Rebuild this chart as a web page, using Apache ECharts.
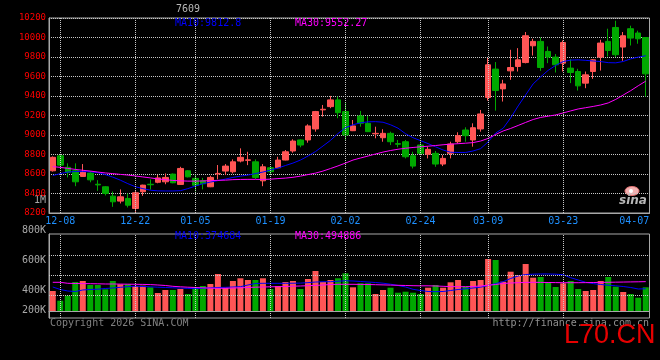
<!DOCTYPE html>
<html><head><meta charset="utf-8">
<script src="https://cdn.jsdelivr.net/npm/echarts@6/dist/echarts.min.js"></script>
<style>html,body{margin:0;padding:0;background:#000;}#c{width:660px;height:360px;}</style>
</head><body><div id="c"></div>
<script>
const dates = ['12-05','12-08','12-09','12-10','12-11','12-12','12-15','12-16','12-17','12-18','12-19',
'12-22','12-23','12-24','12-25','12-26','12-29','12-30','12-31',
'01-05','01-06','01-07','01-08','01-09','01-12','01-13','01-14','01-15','01-16',
'01-19','01-20','01-21','01-22','01-23','01-26','01-27','01-28','01-29','01-30',
'02-02','02-03','02-04','02-05','02-06','02-09','02-10','02-11','02-12','02-13',
'02-24','02-25','02-26','02-27','03-02','03-03','03-04','03-05','03-06',
'03-09','03-10','03-11','03-12','03-13','03-16','03-17','03-18','03-19','03-20',
'03-23','03-24','03-25','03-26','03-27','03-30','03-31','04-01','04-02','04-03','04-06','04-07'];
const tickDates = ['12-08','12-22','01-05','01-19','02-02','02-24','03-09','03-23','04-07'];

const opens = [8633,8787,8668,8633,8575,8610,8495,8469,8373,8322,
8349,8246,8418,8495,8515,8520,8599,8493,8633,8555,
8530,8469,8600,8630,8623,8733,8740,8725,8530,8664,
8664,8743,8836,8949,8949,9062,9258,9291,9360,9240,
9044,9195,9120,9012,8972,9017,8912,8931,8787,8897,
8802,8812,8702,8812,8931,9051,8949,9062,9384,9676,
9473,9658,9703,9743,9915,9960,9857,9799,9737,9686,
9651,9532,9651,9799,9960,10103,9902,10090,10046,10000];
const closes = [8771,8691,8617,8520,8620,8540,8488,8400,8315,8366,
8280,8408,8486,8490,8560,8565,8510,8657,8571,8485,
8500,8565,8606,8681,8725,8771,8745,8565,8674,8623,
8743,8828,8938,8897,9093,9240,9264,9360,9229,9000,
9093,9120,9034,9017,9017,8931,8905,8777,8681,8812,
8853,8702,8760,8908,8993,8993,9075,9216,9720,9456,
9524,9692,9771,10018,9960,9692,9799,9720,9949,9641,
9504,9617,9771,9943,9867,9823,10018,9994,9987,9627];
const highs = [8780,8795,8709,8709,8702,8630,8537,8475,8420,8442,
8400,8425,8490,8545,8590,8606,8605,8674,8640,8600,
8560,8582,8692,8702,8750,8863,8828,8750,8702,8681,
8777,8846,8956,8955,9110,9247,9308,9401,9394,9326,
9154,9247,9195,9085,9059,9034,8949,8949,8828,8931,
8880,8836,8794,8931,9028,9079,9120,9257,9789,9748,
9566,9874,9891,10056,9987,10000,9908,9830,9970,9778,
9679,9651,9778,9977,10090,10172,10056,10121,10070,10005];
const lows = [8625,8675,8565,8475,8570,8515,8428,8380,8263,8298,
8257,8211,8376,8440,8505,8495,8505,8490,8565,8420,
8442,8465,8545,8589,8606,8719,8691,8548,8475,8599,
8660,8740,8818,8874,8921,9034,9188,9275,9172,8949,
9040,9085,9030,8966,8931,8897,8874,8760,8657,8794,
8760,8674,8681,8760,8915,8931,8880,9034,9353,9250,
9343,9566,9651,9735,9815,9658,9737,9641,9651,9532,
9456,9480,9576,9661,9805,9799,9761,9918,9936,9394];
const ma10 = [8584,8604,8620,8625,8625,8623,8614,8594,8568,8537,
8501,8470,8450,8434,8427,8426,8426,8429,8450,8476,
8500,8517,8532,8548,8565,8578,8589,8604,8620,8640,
8661,8687,8712,8743,8784,8830,8887,8945,9015,9075,
9105,9125,9135,9137,9131,9105,9070,9013,8972,8942,
8912,8879,8846,8823,8821,8821,8836,8860,8930,9020,
9069,9175,9298,9411,9524,9596,9663,9714,9754,9768,
9771,9766,9759,9753,9742,9740,9754,9781,9799,9812.8];
const ma30 = [8676,8668,8658,8647,8638,8630,8620,8611,8604,8596,
8589,8580,8570,8560,8550,8542,8534,8530,8527,8527,
8529,8532,8535,8537,8542,8544,8545,8545,8544,8547,
8553,8558,8566,8578,8594,8609,8630,8656,8683,8712,
8743,8764,8784,8805,8825,8841,8854,8864,8872,8879,
8885,8892,8900,8906,8911,8916,8922,8938,8965,9005,
9041,9067,9098,9129,9159,9180,9193,9206,9226,9247,
9267,9280,9293,9308,9329,9365,9410,9455,9505,9552.27];
const volumes = [337000,173600,257800,488700,505500,438100,438100,365600,505500,449900,
449900,421300,426300,399300,303300,353900,353900,370700,286500,399300,
421300,455000,623500,392600,505500,551000,522400,522400,551000,370700,
421300,488700,505500,370700,539200,674000,488700,522400,551000,635200,
399300,466700,466700,286500,353900,392600,308400,325200,308400,286500,
392600,438100,392600,483600,522400,409500,505500,522400,876200,859400,
493700,662200,606600,792000,561100,572900,488700,404400,466700,505500,
370700,337000,353900,505500,572900,409500,320200,286500,224100,399300];
const volMa10 = [404400,362300,337000,328600,353900,362300,367300,379100,387600,399300,
409500,417900,412800,407800,401000,396000,390900,385900,380800,377400,
382500,390900,396000,399300,404400,409500,438100,463400,466700,466700,
466700,466700,468000,470000,478000,488000,493000,493700,502100,508900,
505500,497100,488700,480200,468400,451600,429700,404400,365600,345400,
328600,325200,328600,345400,362300,374100,387600,401000,429700,461700,
493700,547600,589800,615000,620100,623500,623500,620100,611700,561100,
522400,483600,461700,446500,434700,424600,412800,396000,370700,374684];
const volMa30 = [483600,483600,466700,463400,461700,460000,458300,455000,455000,453300,
451600,449900,448200,444800,438100,429700,416200,407800,401000,396000,
390900,384200,382500,382500,387600,390900,396000,401000,404400,407800,
409500,412800,417900,421300,426300,431400,438100,446500,449900,449900,
449900,448200,446500,443200,439800,436400,433000,429700,426300,424600,
424600,421300,416200,411100,409500,409500,412800,421300,433000,446500,
463400,471800,476800,481900,483600,481900,480200,478600,476800,476800,
476800,478000,480000,482000,484000,486000,488000,490000,492000,494886];

const priceMin = 8200, priceMax = 10200, priceStep = 200;
const volAxisMin = -117950, volAxisMax = 1297450;
const volGridLevels = [257800, 594800, 931800];
const volTickLabels = ['800K','600K','400K','200K'];
const volTickTops = [225, 255.5, 285.5, 305.5];

const UP = '#ff5555', DOWN = '#00a800';
const GRID = '#c8c8c8', FRAME = '#a8a8a8';
const MONO = '"DejaVu Sans Mono", monospace';

const kData = opens.map((o,i)=>[o, closes[i], lows[i], highs[i]]);
const volData = volumes.map((v,i)=>({value:v, itemStyle:{color: closes[i] >= opens[i] ? UP : DOWN}}));
const vLines = tickDates.slice(0,-1).map(d=>({xAxis:d}));
const nulls = dates.map(()=>null);

const chart = echarts.init(document.getElementById('c'), null, {renderer:'canvas'});
chart.setOption({
  backgroundColor:'#000',
  animation:false,
  grid:[
    {left:49, top:18, width:600.5, height:195, show:true, borderColor:FRAME, borderWidth:1, backgroundColor:'#000'},
    {left:49, top:234, width:600.5, height:84, show:true, borderColor:FRAME, borderWidth:1, backgroundColor:'#000'}
  ],
  xAxis:[
    {type:'category', gridIndex:0, data:dates, boundaryGap:true,
     axisLine:{lineStyle:{color:FRAME}}, axisTick:{show:false}, splitLine:{show:false},
     axisLabel:{interval:(i,v)=>tickDates.includes(v),
       formatter:(v)=> v===tickDates[tickDates.length-1] ? '{r|'+v+'}' : v,
       color:'#1e90ff', fontFamily:MONO, fontSize:10, margin:3,
       rich:{r:{color:'#1e90ff', fontFamily:MONO, fontSize:10, padding:[0,23,0,0]}}}},
    {type:'category', gridIndex:1, data:dates, boundaryGap:true,
     axisLine:{lineStyle:{color:FRAME}}, axisTick:{show:false}, axisLabel:{show:false}, splitLine:{show:false}}
  ],
  yAxis:[
    {type:'value', gridIndex:0, min:priceMin, max:priceMax, interval:priceStep,
     axisLine:{show:true, lineStyle:{color:FRAME}}, axisTick:{show:false},
     axisLabel:{color:'#ff0000', fontFamily:MONO, fontSize:9, margin:3, formatter:(v)=>String(v)},
     splitLine:{show:true, lineStyle:{color:GRID, type:[1,1], width:1}}},
    {type:'value', gridIndex:1, min:volAxisMin, max:volAxisMax,
     axisLine:{show:true, lineStyle:{color:FRAME}}, axisTick:{show:false},
     axisLabel:{show:false}, splitLine:{show:false}}
  ],
  series:[
    {type:'line', xAxisIndex:0, yAxisIndex:0, data:nulls, z:1, silent:true, showSymbol:false,
     markLine:{silent:true, symbol:['none','none'], label:{show:false},
       lineStyle:{color:GRID, type:[1,1], width:1}, data:vLines}},
    {type:'line', xAxisIndex:1, yAxisIndex:1, data:nulls, z:1, silent:true, showSymbol:false,
     markLine:{silent:true, symbol:['none','none'], label:{show:false},
       lineStyle:{color:GRID, type:[1,1], width:1},
       data: vLines.concat(volGridLevels.map(v=>({yAxis:v})))}},
    {name:'K', type:'candlestick', xAxisIndex:0, yAxisIndex:0, data:kData, barWidth:6, z:3,
     itemStyle:{color:UP, color0:DOWN, borderColor:UP, borderColor0:DOWN, borderWidth:1}},
    {name:'MA10', type:'line', xAxisIndex:0, yAxisIndex:0, data:ma10, showSymbol:false, z:4,
     lineStyle:{color:'#0000ff', width:1}},
    {name:'MA30', type:'line', xAxisIndex:0, yAxisIndex:0, data:ma30, showSymbol:false, z:4,
     lineStyle:{color:'#ff00ff', width:1}},
    {name:'VOL', type:'bar', xAxisIndex:1, yAxisIndex:1, data:volData, barWidth:6, z:3},
    {name:'VMA10', type:'line', xAxisIndex:1, yAxisIndex:1, data:volMa10, showSymbol:false, z:4,
     lineStyle:{color:'#0000ff', width:1}},
    {name:'VMA30', type:'line', xAxisIndex:1, yAxisIndex:1, data:volMa30, showSymbol:false, z:4,
     lineStyle:{color:'#ff00ff', width:1}}
  ],
  graphic:[
    {type:'text', x:188, y:4, style:{text:'7609', fill:'#b8b8b8', font:'10px '+MONO, align:'center', verticalAlign:'top'}},
    {type:'text', x:175, y:18, z:10, style:{text:'MA10:' + ma10[ma10.length-1].toFixed(1), fill:'#0000ff', font:'10px '+MONO, verticalAlign:'top'}},
    {type:'text', x:295, y:18, z:10, style:{text:'MA30:' + ma30[ma30.length-1].toFixed(2), fill:'#ff00ff', font:'10px '+MONO, verticalAlign:'top'}},
    {type:'text', x:175, y:231, z:10, style:{text:'MA10:' + volMa10[volMa10.length-1], fill:'#0000ff', font:'10px '+MONO, verticalAlign:'top'}},
    {type:'text', x:295, y:231, z:10, style:{text:'MA30:' + volMa30[volMa30.length-1], fill:'#ff00ff', font:'10px '+MONO, verticalAlign:'top'}},
    {type:'text', x:46, y:195.5, style:{text:'1M', fill:'#a8a8a8', font:'10px '+MONO, align:'right', verticalAlign:'top'}}
  ].concat(volTickLabels.map((t,i)=>({type:'text', x:46, y:volTickTops[i], style:{text:t, fill:'#a8a8a8', font:'10px '+MONO, align:'right', verticalAlign:'top'}})))
  .concat([
    {type:'text', x:50, y:318, style:{text:'Copyright 2026 SINA.COM', fill:'#808080', font:'10px '+MONO, verticalAlign:'top'}},
    {type:'text', x:649, y:318, style:{text:'http://finance.sina.com.cn', fill:'#909090', font:'10px '+MONO, align:'right', verticalAlign:'top'}},
    {type:'text', x:564, y:349, style:{text:'L70.CN', fill:'#e60000', font:'27px "Liberation Sans", Arial, sans-serif', verticalAlign:'bottom'}},
    {type:'ellipse', shape:{cx:632, cy:191, rx:7, ry:4.5}, style:{fill:'#f2b0b0', stroke:'#e07070', lineWidth:1}},
    {type:'circle', shape:{cx:631, cy:191, r:2}, style:{fill:'#ffffff'}},
    {type:'text', x:619, y:195, style:{text:'sina', fill:'#b8b8b8', font:'italic bold 12px "DejaVu Sans", sans-serif', verticalAlign:'top'}}
  ])
});
</script></body></html>
